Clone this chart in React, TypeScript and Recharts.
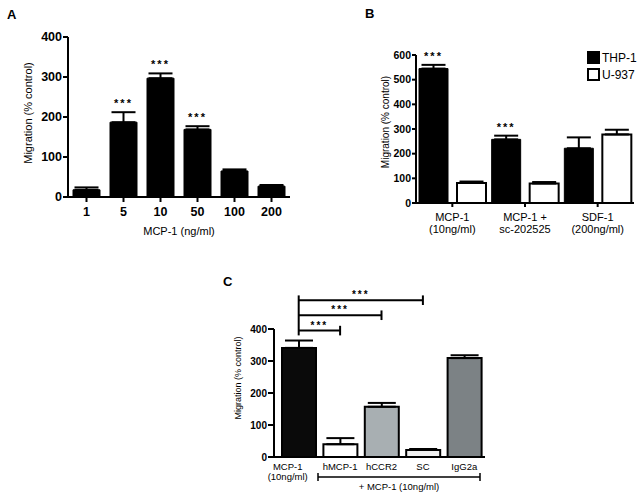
import React from 'react';
import { BarChart, Bar, XAxis, YAxis, ErrorBar, LabelList, Legend, ReferenceLine, Cell, Label } from 'recharts';

const FONT = '"Liberation Sans", Arial, Helvetica, sans-serif';

// panel A: dose response
const aDoses = ['1', '5', '10', '50', '100', '200'];
const aMean = [18, 187, 297, 169, 65, 27];
const aSem = [6, 25, 12, 8, 4, 3];
const aSig = ['', '***', '***', '***', '', ''];
const aTicks = [0, 100, 200, 300, 400];

// panel B: THP-1 vs U-937
const bTreatments = ['MCP-1|(10ng/ml)', 'MCP-1 +|sc-202525', 'SDF-1|(200ng/ml)'];
const bThp1 = [545, 258, 222];
const bThp1Sem = [15, 15, 44];
const bU937 = [81, 79, 278];
const bU937Sem = [6, 6, 19];
const bSig = ['***', '***', ''];
const bTicks = [0, 100, 200, 300, 400, 500, 600];

// panel C: blocking antibodies
const cGroups = ['MCP-1|(10ng/ml)', 'hMCP-1', 'hCCR2', 'SC', 'IgG2a'];
const cMean = [341, 40, 157, 22, 309];
const cSem = [23, 19, 12, 3, 9];
const cFill = ['#0a0a0a', '#ffffff', '#a8afb2', '#f0f0f0', '#7c8285'];
const cTicks = [0, 100, 200, 300, 400];
const cCompare = ['hMCP-1', 'hCCR2', 'SC'];
const cBracketY = [395, 443, 490];

const aData = aDoses.map((d, i) => ({ dose: d, mean: aMean[i], err: [0, aSem[i]] }));
const bData = bTreatments.map((t, i) => ({
  name: t,
  thp1: bThp1[i],
  thp1Err: [0, bThp1Sem[i]],
  u937: bU937[i],
  u937Err: [0, bU937Sem[i]],
}));
const cData = cGroups.map((g, i) => ({ name: g, mean: cMean[i], err: [0, cSem[i]] }));

const axisStyle = { stroke: '#000', strokeWidth: 2 };

const starText = (x: number, y: number, size = 11) => (
  <text x={x} y={y} textAnchor="middle" fontSize={size} letterSpacing={2}
    fontFamily={FONT} fontWeight="bold" fill="#000">***</text>
);

// *** above the error bar, using the bar's own px/unit
const stars = (values: number[], sems: number[], sig: string[]) => (props: any) => {
  const vb = props.viewBox || props;
  const idx = typeof props.index === 'number' ? props.index : values.indexOf(props.value);
  if (idx < 0 || !sig[idx]) return null;
  const { x, y, width, height } = vb;
  const top = y - (sems[idx] * height) / values[idx];
  return starText(x + width / 2, top - 5);
};

// bracket stars sit on the middle of the segment
const bracketStars = (props: any) => {
  const vb = props.viewBox || {};
  return starText((vb.x ?? 0) + (vb.width ?? 0) / 2, (vb.y ?? 0) - 2, 10);
};

const yTitle = (text: string, dx: number, dy: number, fontSize: number) => (props: any) => {
  const vb = props.viewBox || {};
  const cx = (vb.x ?? 0) + dx;
  const cy = (vb.y ?? 0) + (vb.height ?? 0) / 2 + dy;
  return (
    <text x={cx} y={cy} transform={`rotate(-90 ${cx} ${cy})`} textAnchor="middle"
      dominantBaseline="central" fontSize={fontSize} fontFamily={FONT} fill="#000">
      {text}
    </text>
  );
};

const multiTick = (fontSize: number, lineGap: number, firstShift: number) => (props: any) => {
  const { y, payload, index } = props;
  const x = props.x + (index === 0 ? firstShift : 0);
  const lines = String(payload.value).split('|');
  return (
    <text x={x} y={y} textAnchor="middle" fontSize={fontSize} fontFamily={FONT} fill="#000">
      {lines.map((l, i) => (
        <tspan key={i} x={x} dy={i === 0 ? '0.71em' : lineGap}>{l}</tspan>
      ))}
    </text>
  );
};

const PanelLetter = ({ ch, left, top }: { ch: string; left: number; top: number }) => (
  <div style={{ position: 'absolute', left, top, fontFamily: FONT, fontWeight: 'bold', fontSize: 13, lineHeight: '13px' }}>
    {ch}
  </div>
);

const ChartA = () => (
  <BarChart width={300} height={245} data={aData} margin={{ top: 37, right: 10, left: 28, bottom: 13 }}>
    <XAxis dataKey="dose" height={35} axisLine={axisStyle} tickLine={axisStyle} tickSize={5} tickMargin={5}
      tick={{ fontSize: 12.5, fontWeight: 'bold', fill: '#000', fontFamily: FONT }}
      label={<Label content={(p: any) => {
        const vb = p.viewBox || {};
        return (
          <text x={(vb.x ?? 0) + (vb.width ?? 0) / 2} y={(vb.y ?? 0) + 34} textAnchor="middle"
            dominantBaseline="central" fontSize={11} fontFamily={FONT} fill="#000">MCP-1 (ng/ml)</text>
        );
      }} />} />
    <YAxis width={40} domain={[0, 400]} ticks={aTicks} axisLine={axisStyle} tickLine={axisStyle} tickSize={5} tickMargin={1}
      tick={{ fontSize: 12.5, fontWeight: 'bold', fill: '#000', fontFamily: FONT }}
      label={<Label content={yTitle('Migration (% control)', 0, -4, 11)} />} />
    <Bar dataKey="mean" fill="#000" stroke="#000" strokeWidth={1} barSize={27} isAnimationActive={false}>
      <ErrorBar dataKey="err" width={12} stroke="#000" strokeWidth={2} direction="y" />
      <LabelList dataKey="mean" content={stars(aMean, aSem, aSig)} />
    </Bar>
  </BarChart>
);

const LegendB = (props: any) => (
  <div style={{ fontFamily: FONT, fontSize: 12 }}>
    {(props.payload || []).map((e: any) => (
      <div key={e.value} style={{ display: 'flex', alignItems: 'center', height: 17 }}>
        <span style={{ width: 9, height: 9, border: '2px solid #000', background: e.color, marginRight: 2 }} />
        <span>{e.value}</span>
      </div>
    ))}
  </div>
);

const ChartB = () => (
  <BarChart width={320} height={245} data={bData} margin={{ top: 55, right: 6, left: 56, bottom: 2 }}
    barGap={9}>
    <XAxis dataKey="name" height={40} axisLine={axisStyle} tickLine={axisStyle} tickSize={4} tickMargin={6}
      tick={multiTick(11, 12.5, 0)} interval={0} />
    <YAxis width={40} domain={[0, 600]} ticks={bTicks} axisLine={axisStyle} tickLine={axisStyle} tickSize={4} tickMargin={1}
      tick={{ fontSize: 10.5, fontWeight: 'bold', fill: '#000', fontFamily: FONT }}
      label={<Label content={yTitle('Migration (% control)', 9, -7, 10)} />} />
    <Legend layout="horizontal" verticalAlign="middle" align="center" content={LegendB}
      wrapperStyle={{ left: 267, top: 49, width: 60, height: 36 }} />
    <Bar dataKey="thp1" name="THP-1" fill="#000" stroke="#000" strokeWidth={1} barSize={29} isAnimationActive={false}>
      <ErrorBar dataKey="thp1Err" width={12} stroke="#000" strokeWidth={2} direction="y" />
      <LabelList dataKey="thp1" content={stars(bThp1, bThp1Sem, bSig)} />
    </Bar>
    <Bar dataKey="u937" name="U-937" fill="#fff" stroke="#000" strokeWidth={2} barSize={29} isAnimationActive={false}>
      <ErrorBar dataKey="u937Err" width={12} stroke="#000" strokeWidth={2} direction="y" />
    </Bar>
  </BarChart>
);

const ChartC = () => (
  <BarChart width={270} height={236} data={cData} margin={{ top: 69, right: 5, left: 14, bottom: 4 }}>
    <XAxis dataKey="name" height={35} padding={{ left: 4 }} axisLine={axisStyle} tickLine={false} tickSize={0} tickMargin={6}
      tick={multiTick(9.5, 10, -11)} interval={0}
      label={<Label content={(p: any) => {
        const vb = p.viewBox || {};
        const x0 = (vb.x ?? 0) + 44;
        const x1 = (vb.x ?? 0) + 206;
        const ly = (vb.y ?? 0) + 20;
        return (
          <g>
            <line x1={x0} x2={x1} y1={ly} y2={ly} stroke="#000" strokeWidth={1.5} />
            <line x1={x0} x2={x0} y1={ly - 4} y2={ly + 4} stroke="#000" strokeWidth={1.5} />
            <line x1={x1} x2={x1} y1={ly - 4} y2={ly + 4} stroke="#000" strokeWidth={1.5} />
            <text x={(x0 + x1) / 2} y={ly + 9} textAnchor="middle" dominantBaseline="central"
              fontSize={9.5} fontFamily={FONT} fill="#000">+ MCP-1 (10ng/ml)</text>
          </g>
        );
      }} />} />
    <YAxis width={40} domain={[0, 400]} ticks={cTicks} axisLine={axisStyle} tickLine={axisStyle} tickSize={6} tickMargin={1}
      tick={{ fontSize: 10, fontWeight: 'bold', fill: '#000', fontFamily: FONT }}
      label={<Label content={yTitle('Migration (% control)', 4, -15, 9)} />} />
    <Bar dataKey="mean" stroke="#000" strokeWidth={2} barSize={34} isAnimationActive={false}>
      {cData.map((d, i) => <Cell key={d.name} fill={cFill[i]} />)}
      <ErrorBar dataKey="err" width={14} stroke="#000" strokeWidth={2} direction="y" />
    </Bar>
    <ReferenceLine segment={[{ x: cGroups[0], y: 505 }, { x: cGroups[0], y: 380 }]} stroke="#000" strokeWidth={2}
      ifOverflow="visible" />
    {cCompare.map((g, i) => (
      <ReferenceLine key={g} segment={[{ x: cGroups[0], y: cBracketY[i] }, { x: g, y: cBracketY[i] }]}
        stroke="#000" strokeWidth={2} ifOverflow="visible"
        label={<Label content={bracketStars} />} />
    ))}
    {cCompare.map((g, i) => (
      <ReferenceLine key={g + '-end'} segment={[{ x: g, y: cBracketY[i] - 15 }, { x: g, y: cBracketY[i] + 15 }]}
        stroke="#000" strokeWidth={2} ifOverflow="visible" />
    ))}
  </BarChart>
);

export default function App() {
  return (
    <div style={{ position: 'absolute', left: 0, top: 0, width: 640, height: 496, background: '#fff', overflow: 'hidden' }}>
      <div style={{ position: 'absolute', left: 0, top: 0 }}><ChartA /></div>
      <div style={{ position: 'absolute', left: 320, top: 0 }}><ChartB /></div>
      <div style={{ position: 'absolute', left: 220, top: 260 }}><ChartC /></div>
      <PanelLetter ch="A" left={7} top={8} />
      <PanelLetter ch="B" left={365} top={7} />
      <PanelLetter ch="C" left={223} top={275} />
    </div>
  );
}
